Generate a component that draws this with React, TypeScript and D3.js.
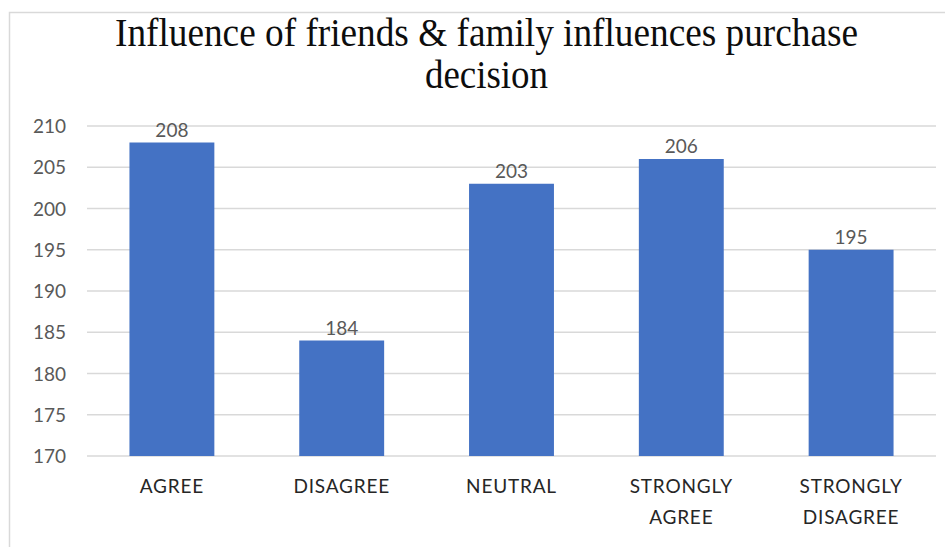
import React from "react";
import * as d3 from "d3";

const categories: string[][] = [
  ["AGREE"],
  ["DISAGREE"],
  ["NEUTRAL"],
  ["STRONGLY", "AGREE"],
  ["STRONGLY", "DISAGREE"],
];
const values: number[] = [208, 184, 203, 206, 195];
const yTicks: number[] = [170, 175, 180, 185, 190, 195, 200, 205, 210];
const titleLines: string[] = [
  "Influence of friends & family influences purchase",
  "decision",
];

const W = 945;
const H = 547;
const plot = { left: 87, right: 936, top: 126, bottom: 456 };
const BAR = "#4472C4";
const GRID = "#d9d9d9";
const LABEL = "#595959";
const SANS = "Lato, 'Open Sans', sans-serif";

export default function App() {
  const keys = categories.map((c) => c.join(" "));
  const x = d3
    .scaleBand<string>()
    .domain(keys)
    .range([plot.left, plot.right])
    .paddingInner(0.5)
    .paddingOuter(0.25);
  const y = d3.scaleLinear().domain([170, 210]).range([plot.bottom, plot.top]);

  return (
    <svg
      width={W}
      height={H}
      style={{ position: "absolute", left: 0, top: 0, background: "#fff" }}
    >
      <rect x={0} y={0} width={W} height={H} fill="#fff" />
      {/* chart frame */}
      <path d={`M9.5,${H} V12.5 H${W}`} fill="none" stroke={GRID} strokeWidth={1.5} />

      {/* title */}
      <text
        x={486.5}
        y={46}
        textAnchor="middle"
        fontFamily="'Liberation Serif', 'Times New Roman', serif"
        fontSize={40}
        fill="#0d0d0d"
        textLength={743}
        lengthAdjust="spacingAndGlyphs"
      >
        {titleLines[0]}
      </text>
      <text
        x={486.5}
        y={88}
        textAnchor="middle"
        fontFamily="'Liberation Serif', 'Times New Roman', serif"
        fontSize={40}
        fill="#0d0d0d"
        textLength={123}
        lengthAdjust="spacingAndGlyphs"
      >
        {titleLines[1]}
      </text>

      {/* gridlines and y tick labels */}
      {yTicks.map((t) => (
        <g key={t}>
          <line
            x1={plot.left}
            x2={plot.right}
            y1={y(t)}
            y2={y(t)}
            stroke={GRID}
            strokeWidth={1.5}
          />
          <text
            x={66}
            y={y(t) + 7}
            textAnchor="end"
            fontFamily={SANS}
            fontSize={19}
            fill={LABEL}
          >
            {t}
          </text>
        </g>
      ))}

      {/* bars with value labels */}
      {values.map((v, i) => {
        const k = keys[i];
        const bx = x(k) as number;
        const cx = bx + x.bandwidth() / 2;
        return (
          <g key={k}>
            <rect
              x={bx}
              y={y(v)}
              width={x.bandwidth()}
              height={y(170) - y(v)}
              fill={BAR}
            />
            <text
              x={cx}
              y={y(v) - 6}
              textAnchor="middle"
              fontFamily={SANS}
              fontSize={19}
              fill={LABEL}
            >
              {v}
            </text>
          </g>
        );
      })}

      {/* category labels */}
      {categories.map((lines, i) => {
        const cx = (x(keys[i]) as number) + x.bandwidth() / 2;
        return (
          <text
            key={keys[i]}
            textAnchor="middle"
            fontFamily={SANS}
            fontSize={19}
            letterSpacing={0.8}
            fill="#262626"
          >
            {lines.map((ln, j) => (
              <tspan key={j} x={cx} y={493 + j * 31}>
                {ln}
              </tspan>
            ))}
          </text>
        );
      })}
    </svg>
  );
}
